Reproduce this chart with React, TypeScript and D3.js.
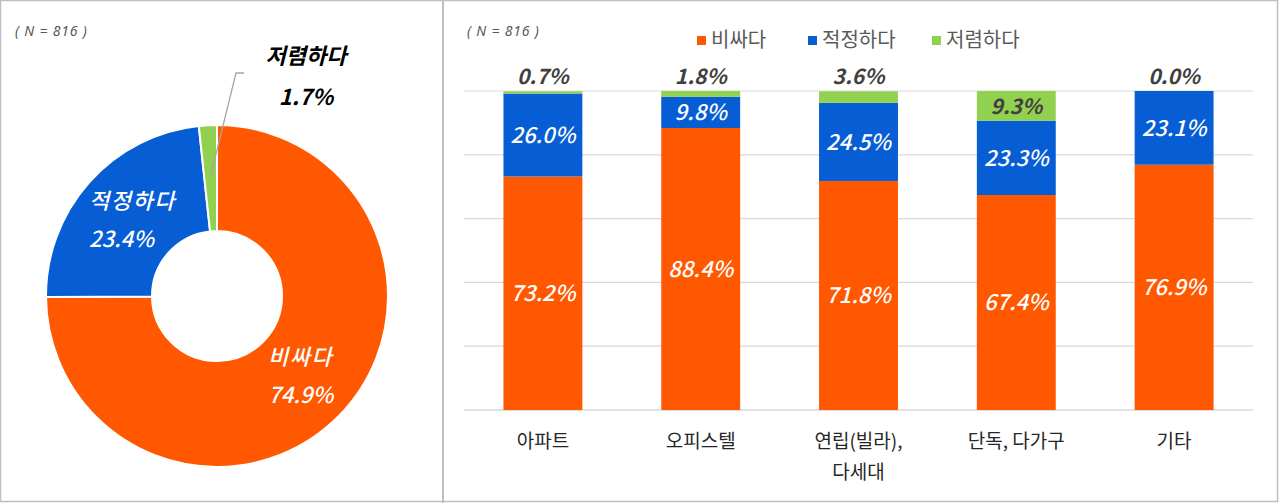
import React, { useEffect, useRef } from "react";
import * as d3 from "d3";

const pieNames = ["비싸다", "적정하다", "저렴하다"];
const pieValues = [74.9, 23.4, 1.7];

const categories = ["아파트", "오피스텔", "연립(빌라),\n다세대", "단독, 다가구", "기타"];
const expensive = [73.2, 88.4, 71.8, 67.4, 76.9];
const fair = [26.0, 9.8, 24.5, 23.3, 23.1];
const cheap = [0.7, 1.8, 3.6, 9.3, 0.0];
const yTicks = [0, 20, 40, 60, 80, 100];

const colors = ["#FF5800", "#065DD4", "#92D050"];
const FONT = "'Noto Sans CJK KR', 'Noto Sans', sans-serif";

const App = () => {
  const ref = useRef<SVGSVGElement>(null);

  useEffect(() => {
    const W = 1280;
    const H = 504;
    const svg = d3.select(ref.current).attr("width", W).attr("height", H);
    svg.selectAll("*").remove();
    svg.style("font-family", FONT);

    // frames
    svg.append("rect").attr("x", 0).attr("y", 0).attr("width", W).attr("height", H).attr("fill", "#fff");
    svg.append("rect").attr("x", 0.5).attr("y", 0.5).attr("width", 1277).attr("height", 501)
      .attr("fill", "none").attr("stroke", "#bfbfbf").attr("stroke-width", 1.5);
    svg.append("line").attr("x1", 443).attr("x2", 443).attr("y1", 0).attr("y2", 503)
      .attr("stroke", "#bfbfbf").attr("stroke-width", 2);

    const nLabel = (x: number) =>
      svg.append("text").attr("x", x).attr("y", 36).text("( N = 816 )")
        .attr("font-family", "'Noto Sans', sans-serif").attr("letter-spacing", 0.8)
        .attr("font-size", 14).attr("font-style", "italic").attr("fill", "#595959");
    nLabel(15);
    nLabel(467);

    // ---- donut ----
    const cx = 217, cy = 296;
    const g = svg.append("g").attr("transform", `translate(${cx},${cy})`);
    const pie = d3.pie<number>().sort(null).value((d) => d);
    const arcs = pie(pieValues);
    const arc = d3.arc<d3.PieArcDatum<number>>().innerRadius(65).outerRadius(171);
    g.selectAll("path").data(arcs).enter().append("path")
      .attr("d", arc)
      .attr("fill", (d, i) => colors[i])
      .attr("stroke", "#fff").attr("stroke-width", 2);

    // labels inside the two big slices (적정하다 is left-aligned like the original)
    const inside = [
      { i: 0, dx: 0, dy: -4, anchor: "middle" },
      { i: 1, dx: -40, dy: 2, anchor: "start" },
    ];
    inside.forEach(({ i, dx, dy, anchor }) => {
      const [x, y] = arc.centroid(arcs[i]);
      const t = g.append("text").attr("text-anchor", anchor).attr("fill", "#fff")
        .attr("font-size", 22).attr("font-style", "italic").attr("font-weight", 500);
      t.append("tspan").attr("x", x + dx).attr("y", y + dy - 10).attr("letter-spacing", 1.5).text(pieNames[i]);
      t.append("tspan").attr("x", x + dx).attr("y", y + dy + 28).attr("letter-spacing", 0).text(pieValues[i].toFixed(1) + "%");
    });

    // outside label for small slice
    const small = arcs[2];
    const pt = d3.arc<d3.PieArcDatum<number>>().innerRadius(120).outerRadius(120).centroid(small);
    g.append("polyline")
      .attr("points", `${pt[0]},${pt[1]} ${236 - cx},${73 - cy} ${244 - cx},${73 - cy}`)
      .attr("fill", "none").attr("stroke", "#a6a6a6").attr("stroke-width", 1.3);
    const ot = svg.append("text").attr("text-anchor", "middle").attr("fill", "#000")
      .attr("font-size", 22).attr("font-style", "italic").attr("font-weight", 700);
    ot.append("tspan").attr("x", 306).attr("y", 64).text(pieNames[2]);
    ot.append("tspan").attr("x", 306).attr("y", 105).text(pieValues[2].toFixed(1) + "%");

    // ---- stacked bars ----
    const x = d3.scaleBand().domain(categories).range([464, 1253]).paddingInner(0.5).paddingOuter(0.25);
    const y = d3.scaleLinear().domain([0, 100]).range([410, 91]);

    svg.append("g").selectAll("line").data(yTicks).enter().append("line")
      .attr("x1", 464).attr("x2", 1253)
      .attr("y1", (d) => y(d)).attr("y2", (d) => y(d))
      .attr("stroke", "#d9d9d9").attr("stroke-width", (d) => (d === 0 ? 1.5 : 1.2));

    const rows = categories.map((c, i) => ({ c, v: [expensive[i], fair[i], cheap[i]] }));
    const bars = svg.append("g");
    rows.forEach((r) => {
      let acc = 0;
      r.v.forEach((v, k) => {
        const y0 = acc;
        acc += v;
        if (v <= 0) return;
        bars.append("rect")
          .attr("x", x(r.c)!)
          .attr("width", x.bandwidth())
          .attr("y", y(Math.min(acc, 100)))
          .attr("height", y(y0) - y(Math.min(acc, 100)))
          .attr("fill", colors[k]);
      });
    });

    // bar labels
    rows.forEach((r) => {
      const xc = x(r.c)! + x.bandwidth() / 2;
      let acc = 0;
      r.v.forEach((v, k) => {
        const y0 = acc;
        acc += v;
        const mid = (y(y0) + y(Math.min(acc, 100))) / 2;
        if (k < 2) {
          bars.append("text").attr("x", xc).attr("y", mid + 8).attr("text-anchor", "middle")
            .attr("fill", "#fff").attr("font-size", 22).attr("font-style", "italic")
            .attr("font-weight", 500).text(v.toFixed(1) + "%");
        } else {
          const insideBar = v > 6;
          bars.append("text").attr("x", xc).attr("y", insideBar ? mid + 8 : y(100) - 7)
            .attr("text-anchor", "middle").attr("fill", "#404040").attr("font-size", 21)
            .attr("font-style", "italic").attr("font-weight", 700).text(v.toFixed(1) + "%");
        }
      });
    });

    // x axis labels
    const xa = svg.append("g").attr("transform", "translate(0,410)")
      .call(d3.axisBottom(x).tickSize(0).tickPadding(0));
    xa.select(".domain").remove();
    xa.selectAll<SVGTextElement, string>("text").each(function (d) {
      const t = d3.select(this);
      t.text(null).attr("y", 0).attr("dy", null).attr("fill", "#262626")
        .attr("font-size", 19).attr("font-family", FONT);
      d.split("\n").forEach((line, i) => {
        t.append("tspan").attr("x", 0).attr("y", 38 + i * 31).text(line);
      });
    });

    // legend
    const legendX = [697, 808, 932];
    const lg = svg.append("g");
    pieNames.forEach((n, i) => {
      lg.append("rect").attr("x", legendX[i]).attr("y", 36).attr("width", 9).attr("height", 9).attr("fill", colors[i]);
      lg.append("text").attr("x", legendX[i] + 14).attr("y", 47).attr("font-size", 20)
        .attr("fill", "#595959").text(n);
    });
  });

  return (
    <div style={{ position: "fixed", left: 0, top: 0 }}>
      <svg ref={ref} style={{ display: "block" }}></svg>
    </div>
  );
};

export default App;
